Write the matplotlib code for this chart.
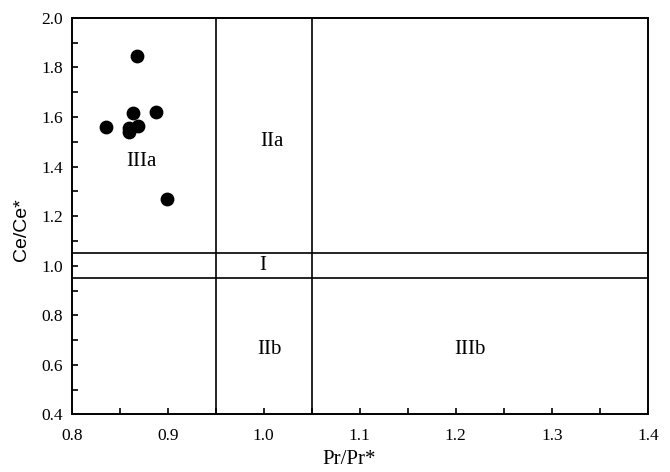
import matplotlib
matplotlib.use('Agg')
from matplotlib import pyplot as plt
from matplotlib.ticker import MultipleLocator

plt.rcParams['font.family'] = ['Liberation Serif', 'DejaVu Serif']

# sample points
pr_anom = [0.868, 0.836, 0.864, 0.8875, 0.860, 0.869, 0.860, 0.899]
ce_anom = [1.846, 1.560, 1.617, 1.621, 1.557, 1.564, 1.541, 1.270]

# field boundaries
pr_bounds = [0.95, 1.05]
ce_bounds = [0.95, 1.05]

fields = ['IIIa', 'IIa', 'I', 'IIb', 'IIIb']
field_x = [0.873, 1.008, 0.999, 1.006, 1.215]
field_y = [1.42, 1.50, 1.0, 0.66, 0.66]

fig, ax = plt.subplots(figsize=(6.7, 4.72), dpi=100)
fig.subplots_adjust(left=0.107, right=0.967, top=0.962, bottom=0.122)

for xb in pr_bounds:
    ax.plot([xb, xb], [0.4, 2.0], color='black', lw=1.2)
for yb in ce_bounds:
    ax.plot([0.8, 1.4], [yb, yb], color='black', lw=1.2)

ax.scatter(pr_anom, ce_anom, s=80, color='black', zorder=3)

for name, x, y in zip(fields, field_x, field_y):
    ax.text(x, y, name, ha='center', va='center', fontsize=15)

ax.set_xlim(0.8, 1.4)
ax.set_ylim(0.4, 2.0)
ax.xaxis.set_major_locator(MultipleLocator(0.1))
ax.xaxis.set_minor_locator(MultipleLocator(0.05))
ax.yaxis.set_major_locator(MultipleLocator(0.2))
ax.yaxis.set_minor_locator(MultipleLocator(0.1))
ax.xaxis.set_major_formatter(lambda v, p: f'{v:.1f}')
ax.yaxis.set_major_formatter(lambda v, p: f'{v:.1f}')
ax.tick_params(which='both', direction='in', length=4, width=1.2, labelsize=12.5)
ax.tick_params(axis='x', which='major', pad=10)
ax.tick_params(axis='y', which='major', pad=6)
for s in ax.spines.values():
    s.set_linewidth(1.4)

ax.set_xlabel('Pr/Pr*', fontsize=15)
ax.set_ylabel('Ce/Ce*', fontsize=14, family=['Liberation Sans', 'DejaVu Sans'])
ax.xaxis.set_label_coords(0.481, -0.09)
ax.yaxis.set_label_coords(-0.072, 0.465)

fig.savefig('out.png')
